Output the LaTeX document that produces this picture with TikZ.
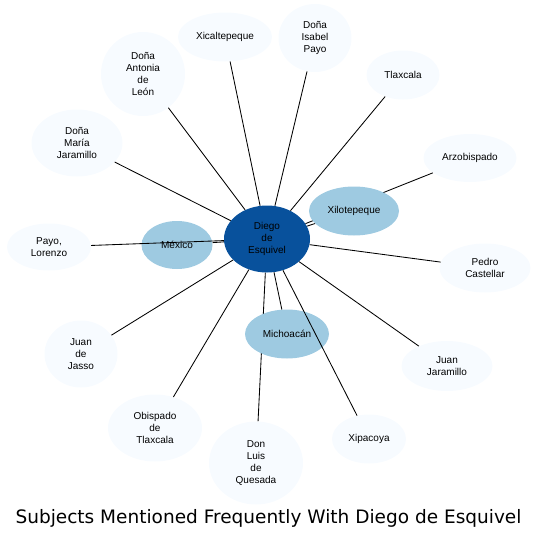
\documentclass[tikz,border=0pt]{standalone}
\usepackage{fontspec}
\setmainfont{Liberation Sans}
\newfontfamily\titlefont{DejaVu Sans}
\usetikzlibrary{shapes.geometric}
\definecolor{darkblue}{HTML}{08519C}
\definecolor{midblue}{HTML}{9ECAE1}
\definecolor{paleblue}{HTML}{F7FBFF}
\pgfdeclarelayer{bg}
\pgfsetlayers{bg,main}
\tikzset{
  ent/.style={ellipse, inner sep=0pt, align=center, font=\fontsize{10}{12}\selectfont, text=black},
  hub/.style={ent, fill=darkblue},
  mid/.style={ent, fill=midblue},
  leaf/.style={ent, fill=paleblue},
  link/.style={draw=black, line width=0.85pt},
}
\begin{document}
\begin{tikzpicture}[x=1pt,y=1pt]
\useasboundingbox (0,0) rectangle (537,-541);
\node[hub, minimum width=86, minimum height=67] (diego) at (267,-239) {Diego\\de\\Esquivel};
\node[mid, minimum width=71, minimum height=48] (mexico) at (177,-245) {México};
\node[mid, minimum width=90, minimum height=49] (xilo) at (354,-211) {Xilotepeque};
\node[mid, minimum width=84, minimum height=49] (mich) at (287,-334) {Michoacán};
\node[leaf, minimum width=84, minimum height=47] (payo) at (49,-247) {Payo,\\Lorenzo};
\node[leaf, minimum width=91, minimum height=67] (maria) at (77,-143) {Doña\\María\\Jaramillo};
\node[leaf, minimum width=84, minimum height=84] (antonia) at (143,-74) {Doña\\Antonia\\de\\León};
\node[leaf, minimum width=94, minimum height=49] (xical) at (225,-37) {Xicaltepeque};
\node[leaf, minimum width=73, minimum height=68] (isabel) at (315,-38) {Doña\\Isabel\\Payo};
\node[leaf, minimum width=73, minimum height=49] (tlax) at (403,-75) {Tlaxcala};
\node[leaf, minimum width=93, minimum height=48] (arzo) at (470,-158) {Arzobispado};
\node[leaf, minimum width=91, minimum height=49] (pedro) at (485,-268) {Pedro\\Castellar};
\node[leaf, minimum width=91, minimum height=50] (juanj) at (447,-366) {Juan\\Jaramillo};
\node[leaf, minimum width=74, minimum height=49] (xipa) at (369,-439) {Xipacoya};
\node[leaf, minimum width=94, minimum height=83] (luis) at (256,-463) {Don\\Luis\\de\\Quesada};
\node[leaf, minimum width=94, minimum height=67] (obisp) at (155,-428) {Obispado\\de\\Tlaxcala};
\node[leaf, minimum width=73, minimum height=67] (jasso) at (81,-354) {Juan\\de\\Jasso};
\begin{pgfonlayer}{bg}
\draw[link] (diego) -- (arzo);
\draw[link] (diego) -- (luis);
\end{pgfonlayer}
\draw[link] (diego) -- (mexico);
\draw[link] (diego) -- (payo);
\draw[link] (diego) -- (xilo);
\draw[link] (diego) -- (mich);
\draw[link] (diego) -- (maria);
\draw[link] (diego) -- (antonia);
\draw[link] (diego) -- (xical);
\draw[link] (diego) -- (isabel);
\draw[link] (diego) -- (tlax);
\draw[link] (diego) -- (pedro);
\draw[link] (diego) -- (juanj);
\draw[link] (diego) -- (xipa);
\draw[link] (diego) -- (obisp);
\draw[link] (diego) -- (jasso);
\node[font=\titlefont\fontsize{18.5}{22}\selectfont] (title) at (268.5,-518.5) {Subjects Mentioned Frequently With Diego de Esquivel};
\end{tikzpicture}
\end{document}
